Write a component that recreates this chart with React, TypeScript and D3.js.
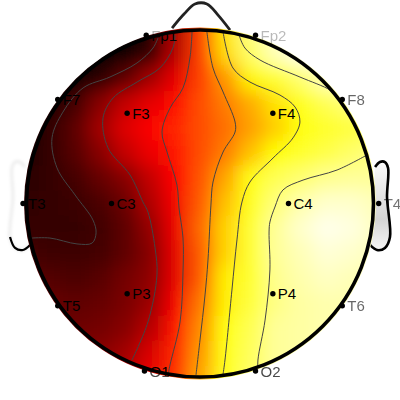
import * as d3 from "d3";

// ── Data ──────────────────────────────────────────────────
// head units: centre 0,0, rim at radius 1, y up
const electrodeNames = ["Fp1", "Fp2", "F7", "F3", "F4", "F8", "T3", "C3", "C4", "T4", "T5", "P3", "P4", "T6", "O1", "O2"];
const electrodeX = [-0.31, 0.32, -0.82, -0.42, 0.42, 0.82, -1.02, -0.51, 0.51, 1.03, -0.82, -0.42, 0.42, 0.82, -0.32, 0.32];
const electrodeY = [0.97, 0.97, 0.6, 0.52, 0.52, 0.6, 0, 0, 0, 0, -0.59, -0.52, -0.52, -0.59, -0.965, -0.965];

// hot colormap values, 0..1, rows top to bottom, columns left to right
const fieldRows = [
  [0, 0, 0, 0, 0, 0.05, 0.25, 0.47, 0.72, 0.88, 0.95, 1, 1, 1, 1],
  [0, 0, 0, 0, 0.01, 0.08, 0.27, 0.47, 0.7, 0.85, 0.93, 0.98, 1, 1, 1],
  [0, 0, 0.02, 0.06, 0.14, 0.24, 0.34, 0.47, 0.6, 0.74, 0.8, 0.86, 0.93, 0.97, 1],
  [0.01, 0.04, 0.1, 0.2, 0.29, 0.34, 0.39, 0.49, 0.56, 0.63, 0.71, 0.78, 0.83, 0.87, 0.9],
  [0.03, 0.075, 0.14, 0.24, 0.33, 0.37, 0.43, 0.49, 0.54, 0.61, 0.68, 0.76, 0.79, 0.81, 0.83],
  [0.05, 0.08, 0.13, 0.2, 0.29, 0.35, 0.41, 0.49, 0.56, 0.66, 0.75, 0.79, 0.82, 0.85, 0.88],
  [0.06, 0.08, 0.1, 0.15, 0.2, 0.29, 0.38, 0.5, 0.62, 0.77, 0.83, 0.86, 0.89, 0.9, 0.9],
  [0.07, 0.08, 0.085, 0.11, 0.16, 0.26, 0.36, 0.51, 0.66, 0.78, 0.87, 0.92, 0.95, 0.95, 0.93],
  [0.08, 0.08, 0.08, 0.095, 0.14, 0.22, 0.35, 0.53, 0.69, 0.8, 0.9, 0.95, 0.98, 0.97, 0.94],
  [0.1, 0.09, 0.09, 0.1, 0.14, 0.2, 0.34, 0.51, 0.69, 0.8, 0.9, 0.93, 0.96, 0.95, 0.93],
  [0.13, 0.12, 0.11, 0.13, 0.17, 0.21, 0.34, 0.51, 0.73, 0.8, 0.89, 0.92, 0.94, 0.93, 0.92],
  [0.16, 0.15, 0.14, 0.15, 0.18, 0.23, 0.36, 0.55, 0.73, 0.81, 0.88, 0.91, 0.92, 0.92, 0.9],
  [0.18, 0.17, 0.16, 0.17, 0.2, 0.27, 0.41, 0.58, 0.76, 0.83, 0.9, 0.91, 0.92, 0.92, 0.9],
  [0.2, 0.2, 0.2, 0.2, 0.24, 0.32, 0.43, 0.6, 0.77, 0.84, 0.9, 0.91, 0.92, 0.92, 0.9],
  [0.24, 0.24, 0.24, 0.24, 0.28, 0.35, 0.45, 0.62, 0.78, 0.85, 0.9, 0.91, 0.92, 0.92, 0.9],
];

const contourLines: [number, number][][] = [
  [[-0.242, 0.954], [-0.271, 0.896], [-0.363, 0.81], [-0.519, 0.729], [-0.674, 0.666], [-0.79, 0.527], [-0.853, 0.378], [-0.824, 0.205], [-0.72, 0.049], [-0.617, -0.095], [-0.599, -0.17], [-0.622, -0.228], [-0.709, -0.233], [-0.865, -0.199], [-0.968, -0.199]],
  [[-0.144, 0.971], [-0.156, 0.896], [-0.231, 0.781], [-0.363, 0.7], [-0.501, 0.608], [-0.559, 0.493], [-0.53, 0.32], [-0.403, 0.164], [-0.329, 0.009], [-0.3, -0.049], [-0.259, -0.256], [-0.248, -0.412], [-0.3, -0.683], [-0.392, -0.902]],
  [[-0.046, 0.988], [-0.058, 0.839], [-0.098, 0.666], [-0.173, 0.55], [-0.219, 0.412], [-0.19, 0.297], [-0.133, 0.107], [-0.121, -0.026], [-0.098, -0.199], [-0.098, -0.395], [-0.115, -0.683], [-0.173, -0.931], [-0.184, -0.988]],
  [[0.04, 0.988], [0.075, 0.781], [0.133, 0.643], [0.202, 0.47], [0.202, 0.412], [0.133, 0.297], [0.075, 0.124], [0.063, -0.009], [0.046, -0.326], [0.029, -0.527], [0, -0.787], [-0.023, -0.988]],
  [[0.133, 0.988], [0.19, 0.781], [0.288, 0.7], [0.461, 0.625], [0.548, 0.556], [0.576, 0.47], [0.536, 0.378], [0.421, 0.262], [0.288, 0.124], [0.242, 0.009], [0.213, -0.21], [0.184, -0.499], [0.144, -0.902], [0.133, -0.983]],
  [[0.225, 0.971], [0.259, 0.896], [0.346, 0.827], [0.576, 0.729], [0.749, 0.654], [0.778, 0.625]],
  [[0.963, 0.28], [0.79, 0.193], [0.594, 0.135], [0.478, 0.078], [0.432, -0.02], [0.403, -0.107], [0.398, -0.164], [0.403, -0.383], [0.375, -0.672], [0.334, -0.902], [0.334, -0.971]],
];

const nosePoints: [number, number][] = [[-0.161, 1.011], [-0.092, 1.092], [-0.029, 1.15], [0.04, 1.15], [0.104, 1.086], [0.173, 1.0]];
const earPoints: [number, number][] = [[1.009, 0.21], [1.037, 0.239], [1.066, 0.239], [1.084, 0.205], [1.078, 0.037], [1.095, -0.193], [1.066, -0.256], [1.02, -0.268], [0.98, -0.239]];

// labels that fall outside the head are washed out in the picture
const outsideFade: Record<string, number> = { Fp1: 0.3, Fp2: 0.28, F7: 0.5, F8: 0.6, T4: 0.55, T6: 0.6, O1: 0.7, O2: 0.72, T3: 0.8, T5: 0.8 };

// ── Layout ────────────────────────────────────────────────
const CX = 200;
const CY = 203.5;
const R = 173.5;
const FIELD_R = 176;
const FONT = "'Liberation Sans', Arial, sans-serif";

const x = d3.scaleLinear().domain([-1, 1]).range([CX - R, CX + R]);
const y = d3.scaleLinear().domain([-1, 1]).range([CY + R, CY - R]);

const colIndex = d3.range(fieldRows[0].length);
const rowIndex = d3.range(fieldRows.length);
const colBand = d3.scaleBand<number>().domain(colIndex).range([13.5, 388.5]);
const rowBand = d3.scaleBand<number>().domain(rowIndex).range([15.5, 390.5]);
const hot = d3.scaleLinear<string>()
  .domain([0, 0.375, 0.75, 1])
  .range(["#000000", "#ff0000", "#ffff00", "#ffffff"])
  .clamp(true);

const smooth = d3.line<[number, number]>()
  .x(d => x(d[0])).y(d => y(d[1]))
  .curve(d3.curveCatmullRom.alpha(0.5));

const mirrored = earPoints.map(([u, v]) => [-u, v] as [number, number]);
const PAD = 30;

export default function App() {
  const names = electrodeNames.map((name, i) => ({ name, px: x(electrodeX[i]), py: y(electrodeY[i]) }));
  const labels = (fade: boolean) => names.map(e => (
    <text key={e.name} x={e.px + 5} y={e.py + 5.6}
      fontSize={15} fontFamily={FONT} fill="#000"
      fillOpacity={fade ? outsideFade[e.name] ?? 0.8 : 1}>
      {e.name}
    </text>
  ));

  return (
    <svg width={400} height={400} viewBox="0 0 400 400"
      style={{ position: "fixed", left: 0, top: 0, display: "block", background: "#fff" }}>
      <defs>
        <clipPath id="fieldClip"><circle cx={CX} cy={CY} r={FIELD_R} /></clipPath>
        <clipPath id="insideClip"><circle cx={CX} cy={CY} r={R} /></clipPath>
        <clipPath id="outsideClip">
          <path clipRule="evenodd"
            d={`M0 0H400V400H0Z M${CX - R} ${CY}a${R} ${R} 0 1 0 ${2 * R} 0a${R} ${R} 0 1 0 ${-2 * R} 0Z`} />
        </clipPath>
        <filter id="fieldBlur" x="-20%" y="-20%" width="140%" height="140%">
          <feGaussianBlur stdDeviation={9} />
        </filter>
        <filter id="soft" x="-20%" y="-20%" width="140%" height="140%">
          <feGaussianBlur stdDeviation={0.55} />
        </filter>
        <filter id="softer" x="-40%" y="-20%" width="180%" height="140%">
          <feGaussianBlur stdDeviation={1.4} />
        </filter>
        <linearGradient id="earShade" x1="0" y1="0" x2="0" y2="1">
          <stop offset="0" stopColor="#fbfbfb" />
          <stop offset="0.65" stopColor="#d4d4d4" />
          <stop offset="1" stopColor="#f6f6f6" />
        </linearGradient>
      </defs>

      {/* ── Ears and nose ── */}
      <path d={smooth(earPoints) ?? ""} fill="url(#earShade)" stroke="#000" strokeWidth={2.6} filter="url(#soft)" />
      <path d={smooth(mirrored) ?? ""} fill="none" stroke="#000" strokeOpacity={0.07} strokeWidth={3} filter="url(#softer)" />
      <path d={smooth(mirrored.slice(5)) ?? ""} fill="none" stroke="#000" strokeWidth={2.2} filter="url(#soft)" />
      <path d={smooth(nosePoints) ?? ""} fill="none" stroke="#222" strokeWidth={2.8} filter="url(#soft)" />

      {/* ── Field ── */}
      <g clipPath="url(#fieldClip)">
        <g filter="url(#fieldBlur)">
          {fieldRows.map((row, r) => row.map((v, c) => {
            const cx0 = colBand(c) ?? 0;
            const cy0 = rowBand(r) ?? 0;
            const left = c === 0 ? PAD : 0;
            const right = c === colIndex.length - 1 ? PAD : 0;
            const top = r === 0 ? PAD : 0;
            const bottom = r === rowIndex.length - 1 ? PAD : 0;
            return (
              <rect key={`${r}-${c}`} x={cx0 - left} y={cy0 - top}
                width={colBand.bandwidth() + left + right + 0.5}
                height={rowBand.bandwidth() + top + bottom + 0.5}
                fill={hot(v)} />
            );
          }))}
        </g>
      </g>

      {/* ── Contours ── */}
      <g clipPath="url(#insideClip)">
        {contourLines.map((line, i) => (
          <path key={i} d={smooth(line) ?? ""} fill="none" stroke="#444" strokeWidth={1} />
        ))}
      </g>

      {/* ── Head outline ── */}
      <circle cx={CX} cy={CY} r={R} fill="none" stroke="#000" strokeWidth={3.6} />

      {/* ── Electrodes ── */}
      {names.map(e => <circle key={e.name} cx={e.px} cy={e.py} r={2.7} fill="#000" />)}
      <g clipPath="url(#insideClip)">{labels(false)}</g>
      <g clipPath="url(#outsideClip)" filter="url(#soft)">{labels(true)}</g>
    </svg>
  );
}
